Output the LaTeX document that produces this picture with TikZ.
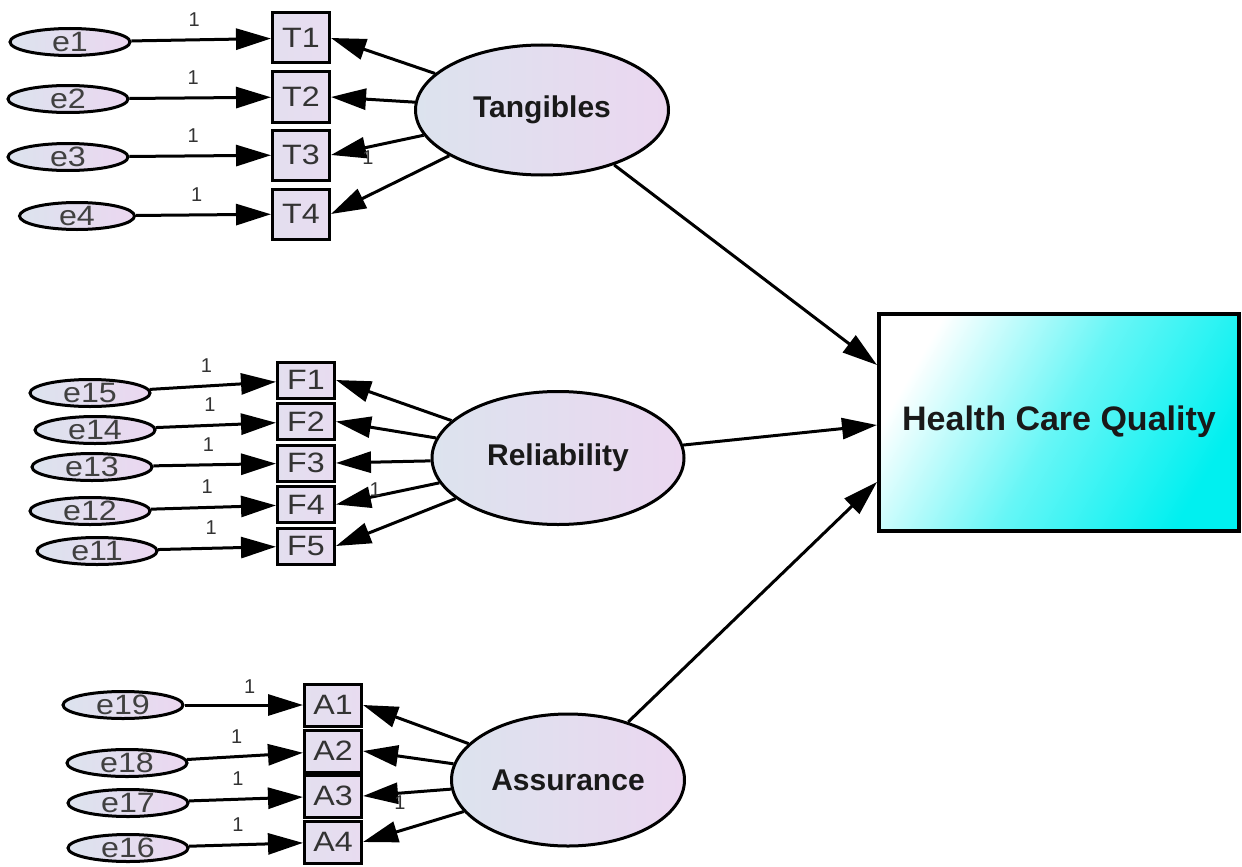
\documentclass[tikz,border=0pt]{standalone}
\usepackage{fontspec}
\setmainfont{Liberation Sans}
\newfontfamily\obsfont[FakeStretch=1.15]{Liberation Sans}
\usepackage{tikz}
\usetikzlibrary{arrows.meta,shapes.geometric}
\definecolor{latleft}{HTML}{DCE3EE}
\definecolor{latright}{HTML}{EBD7F0}
\definecolor{obsfill}{HTML}{E8DCF0}
\definecolor{hcqcyan}{HTML}{00F0F0}

\begin{document}
\begin{tikzpicture}[x=1pt,y=-1pt,
 err/.style={ellipse,draw,line width=3pt,left color=latleft,right color=latright,minimum width=120pt,minimum height=27pt,inner sep=0pt,text height=19pt,text depth=0pt,font=\obsfont\fontsize{28}{28}\selectfont,text=black!75},
 obs/.style={rectangle,draw,line width=3pt,left color=obsfill!60!latleft,right color=obsfill,minimum width=57pt,minimum height=50pt,inner sep=0pt,font=\obsfont\fontsize{28}{28}\selectfont,text=black!80},
 lat/.style={ellipse,draw,line width=3pt,left color=latleft,right color=latright,minimum width=253pt,minimum height=130pt,font=\bfseries\fontsize{30}{30}\selectfont,text=black!90},
 arr/.style={-{Triangle[length=35pt,width=21pt]},line width=3pt},
 lbl/.style={font=\fontsize{20}{20}\selectfont,text=black!80,inner sep=1pt}]
 \useasboundingbox (0,0) rectangle (1242,867);
 % Tangibles
 \node[err] (e1) at (70,42) {e1};
 \node[err] (e2) at (68,99) {e2};
 \node[err] (e3) at (68,157) {e3};
 \node[err,minimum width=115pt] (e4) at (77,216) {e4};
 \node[obs] (T1) at (301,38) {T1};
 \node[obs] (T2) at (301,97) {T2};
 \node[obs] (T3) at (301,155) {T3};
 \node[obs] (T4) at (301,214) {T4};
 \node[lat] (tan) at (542,110) {Tangibles};
 % Reliability
 \node[err] (e15) at (90,393) {e15};
 \node[err] (e14) at (95,430) {e14};
 \node[err] (e13) at (92,467) {e13};
 \node[err] (e12) at (90,511) {e12};
 \node[err] (e11) at (97,551) {e11};
 \node[obs,minimum height=36pt] (F1) at (306,380) {F1};
 \node[obs,minimum height=36pt] (F2) at (306,421.5) {F2};
 \node[obs,minimum height=36pt] (F3) at (306,463) {F3};
 \node[obs,minimum height=36pt] (F4) at (306,504.5) {F4};
 \node[obs,minimum height=36pt] (F5) at (306,546) {F5};
 \node[lat,minimum width=252pt,minimum height=133pt] (rel) at (558,458) {Reliability};
 % Assurance
 \node[err] (e19) at (123,705) {e19};
 \node[err] (e18) at (127,763) {e18};
 \node[err] (e17) at (128,803) {e17};
 \node[err] (e16) at (128,848) {e16};
 \node[obs,minimum height=42pt] (A1) at (333,705) {A1};
 \node[obs,minimum height=42pt] (A2) at (333,751) {A2};
 \node[obs,minimum height=42pt] (A3) at (333,796) {A3};
 \node[obs,minimum height=42pt] (A4) at (333,842) {A4};
 \node[lat,minimum width=233pt,minimum height=132pt] (ass) at (568,780) {Assurance};
 \node[draw,line width=4pt,left color=white,right color=hcqcyan,middle color=hcqcyan!60!white,shading angle=60,minimum width=360pt,minimum height=217pt,font=\bfseries\fontsize{34}{34}\selectfont,text=black!90] (hcq) at (1059,422) {Health Care Quality};
 \draw[arr] (e1) -- node[lbl,pos=0.45,above=11pt]{1} (T1); \draw[arr] (e2) -- node[lbl,pos=0.45,above=11pt]{1} (T2);
 \draw[arr] (e3) -- node[lbl,pos=0.45,above=11pt]{1} (T3); \draw[arr] (e4) -- node[lbl,pos=0.45,above=11pt]{1} (T4);
 \draw[arr] (tan) -- (T1.east); \draw[arr] (tan) -- (T2.east);
 \draw[arr] (tan) -- node[lbl,pos=0.6,below=1pt]{1} (T3.east); \draw[arr] (tan) -- (T4.east);
 \draw[arr] (e15) -- node[lbl,pos=0.45,above=11pt]{1} (F1); \draw[arr] (e14) -- node[lbl,pos=0.45,above=11pt]{1} (F2);
 \draw[arr] (e13) -- node[lbl,pos=0.45,above=11pt]{1} (F3); \draw[arr] (e12) -- node[lbl,pos=0.45,above=11pt]{1} (F4);
 \draw[arr] (e11) -- node[lbl,pos=0.45,above=11pt]{1} (F5);
 \draw[arr] (rel) -- (F1.east); \draw[arr] (rel) -- (F2.east); \draw[arr] (rel) -- (F3.east);
 \draw[arr] (rel) -- node[lbl,pos=0.62,above=-3pt]{1} (F4.east); \draw[arr] (rel) -- (F5.east);
 \draw[arr] (e19) -- node[lbl,pos=0.55,above=9pt]{1} (A1); \draw[arr] (e18) -- node[lbl,pos=0.43,above=11pt]{1} (A2);
 \draw[arr] (e17) -- node[lbl,pos=0.43,above=11pt]{1} (A3); \draw[arr] (e16) -- node[lbl,pos=0.43,above=11pt]{1} (A4);
 \draw[arr] (ass) -- (A1.east); \draw[arr] (ass) -- (A2.east);
 \draw[arr] (ass) -- node[lbl,pos=0.58,below=0pt]{1} (A3.east); \draw[arr] (ass) -- (A4.east);
 \draw[arr] (tan) -- ([yshift=57pt]hcq.west);
 \draw[arr] (rel) -- ([yshift=-3pt]hcq.west);
 \draw[arr] (ass) -- ([yshift=-60pt]hcq.west);
\end{tikzpicture}
\end{document}
